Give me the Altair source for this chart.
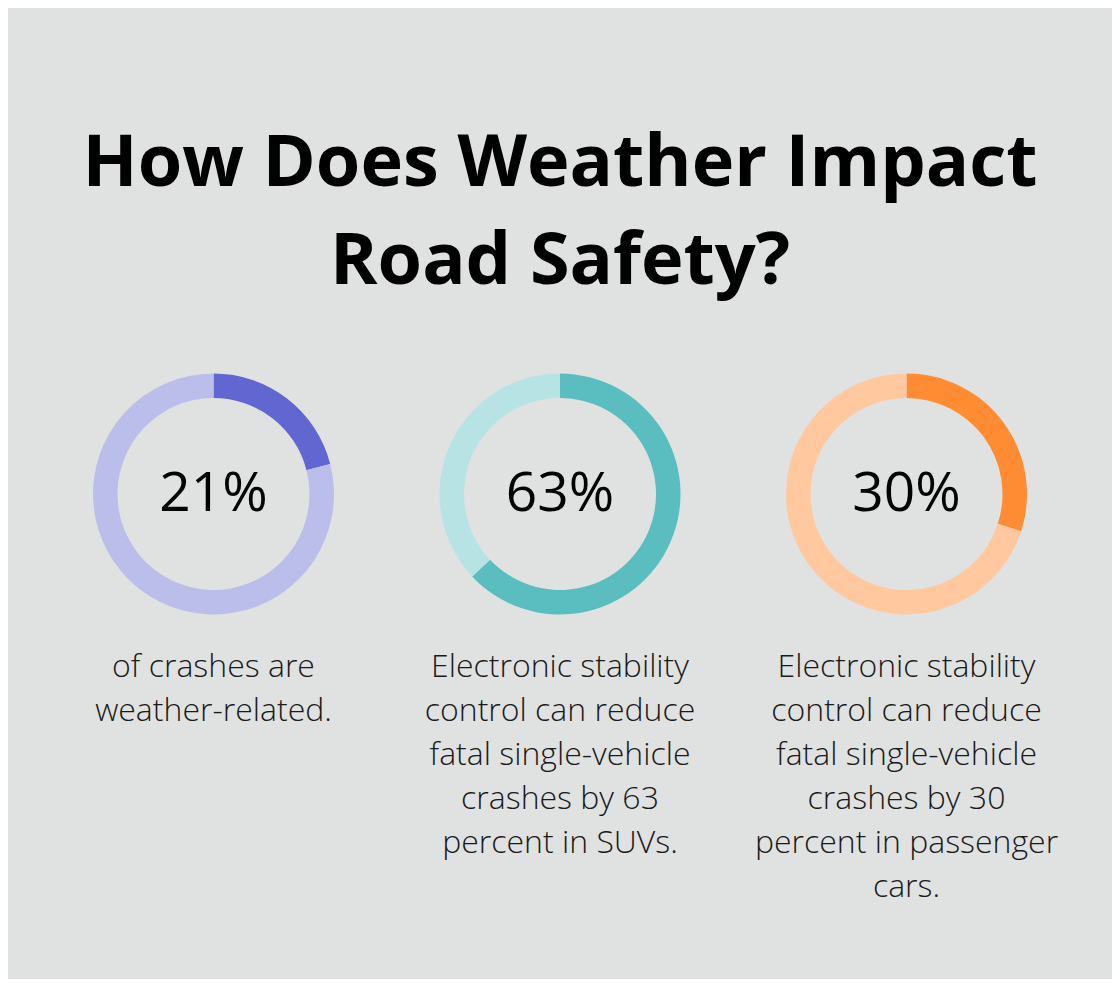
import altair as alt
import pandas as pd

title_lines = ["How Does Weather Impact", "Road Safety?"]
percents = [21, 63, 30]
descriptions = [
    ["of crashes are", "weather-related."],
    ["Electronic stability", "control can reduce", "fatal single-vehicle",
     "crashes by 63", "percent in SUVs."],
    ["Electronic stability", "control can reduce", "fatal single-vehicle",
     "crashes by 30", "percent in passenger", "cars."],
]
strong_colors = ["#6266d0", "#5abdbf", "#ff8b33"]
light_colors = ["#bbbdea", "#b8e3e5", "#ffc89e"]
background = "#e0e2e1"

# layout (pixels)
W = 1104
PAD_TOP = 120
PLOT_H = 680
SPACING = 346.5
PLOT_TOP = 300          # page y of plot-area top (approx, tuned)
CENTER_Y = 495 - PLOT_TOP
PCT_BASE = 512 - PLOT_TOP
DESC_BASE = 678 - PLOT_TOP

rows = []
keys, colors = [], []
for i, p in enumerate(percents):
    rows.append(dict(idx=i, start=0, end=p, key=f"{i}-value"))
    rows.append(dict(idx=i, start=p, end=100, key=f"{i}-rest"))
    keys += [f"{i}-value", f"{i}-rest"]
    colors += [strong_colors[i], light_colors[i]]
arcs = pd.DataFrame(rows)

labels = pd.DataFrame(dict(
    idx=list(range(len(percents))),
    pct=[f"{p}%" for p in percents],
    desc=["\n".join(d) for d in descriptions],
))

half = (W / 2) / SPACING
xscale = alt.Scale(domain=[1 - half, 1 + half])
x_enc = alt.X("idx:Q", scale=xscale, axis=None, stack=None)

donuts = alt.Chart(arcs).mark_arc(outerRadius=120.5, innerRadius=96).encode(
    x=x_enc,
    y=alt.value(CENTER_Y),
    theta=alt.Theta("start:Q", stack=None, scale=alt.Scale(domain=[0, 100])),
    theta2="end:Q",
    color=alt.Color("key:N", scale=alt.Scale(domain=keys, range=colors), legend=None),
)

pct_text = alt.Chart(labels).mark_text(
    font="Open Sans", fontSize=55, fontWeight=500, color="#000000",
    align="center", baseline="alphabetic",
).encode(x=x_enc, y=alt.value(PCT_BASE), text="pct:N")

desc_text = alt.Chart(labels).mark_text(
    font="Open Sans", fontSize=32, fontWeight=300, color="#1a1a1a",
    align="center", baseline="alphabetic", lineBreak="\n", lineHeight=44,
).encode(x=x_enc, y=alt.value(DESC_BASE), text="desc:N")

chart = alt.layer(donuts, pct_text, desc_text).properties(
    width=W, height=PLOT_H,
    autosize=alt.AutoSizeParams(type="pad"),
    padding={"top": PAD_TOP, "left": 0, "right": 0, "bottom": 0},
    background=background,
    title=alt.TitleParams(
        text=title_lines, font="Open Sans", fontSize=72, fontWeight="bold",
        lineHeight=98, color="#000000", anchor="middle", offset=0,
    ),
).configure_view(strokeWidth=0)

chart.save("out.html", embed_options={"renderer": "svg", "actions": False})
